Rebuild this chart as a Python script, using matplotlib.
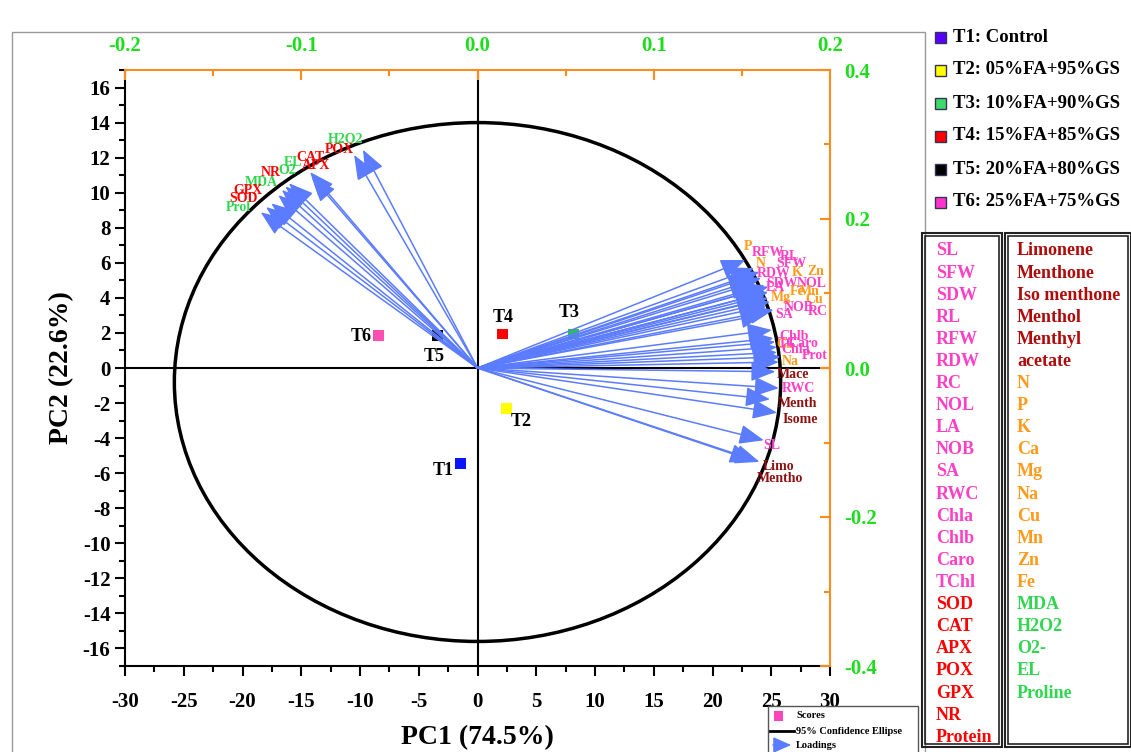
import numpy as np
import matplotlib.pyplot as plt
from matplotlib.patches import Ellipse, Rectangle, FancyArrowPatch
from matplotlib.lines import Line2D
from matplotlib.ticker import MultipleLocator

plt.rcParams['font.family'] = ['Liberation Serif', 'DejaVu Serif']
plt.rcParams['font.weight'] = 'bold'
plt.rcParams['axes.labelweight'] = 'bold'
plt.rcParams['axes.unicode_minus'] = False

W, H = 1131, 752

# scores (PC1, PC2)
score_names = ['T1', 'T2', 'T3', 'T4', 'T5', 'T6']
score_pc1 = [-1.45, 2.47, 8.17, 2.13, -3.4, -8.43]
score_pc2 = [-5.43, -2.29, 1.94, 1.94, 1.83, 1.83]
score_colors = ['#0a14ff', '#ffff00', '#22cc33', '#ff0000', '#000000', '#ff4fb0']
score_off = [(-17, -7), (15, -13), (-4, 21), (1, 16), (-3, -21), (-17, -1)]

# loadings (top / right axis units)
load_names = ['H2O2', 'POX', 'CAT', 'APX', 'EL', 'O2', 'NR', 'MDA', 'GPX', 'SOD', 'Prol',
              'P', 'RFW', 'RL', 'N', 'SFW', 'RDW', 'K', 'Zn', 'SDW', 'NOL', 'LA', 'Fe',
              'Mn', 'Mg', 'Cu', 'NOB', 'RC', 'SA', 'Chlb', 'Ca', 'TC', 'Caro', 'Chla',
              'Prot', 'Na', 'Mace', 'RWC', 'Menth', 'Isome', 'SL', 'Limo', 'Mentho']
load_pc1 = [-0.065, -0.070, -0.095, -0.094, -0.107, -0.109, -0.111, -0.113, -0.117, -0.120, -0.123,
            0.152, 0.157, 0.160, 0.156, 0.161, 0.157, 0.163, 0.165, 0.160, 0.165, 0.160, 0.163,
            0.165, 0.161, 0.166, 0.164, 0.168, 0.163, 0.167, 0.168, 0.169, 0.170, 0.170,
            0.172, 0.171, 0.169, 0.171, 0.166, 0.170, 0.1625, 0.160, 0.157]
load_pc2 = [0.293, 0.286, 0.263, 0.256, 0.248, 0.244, 0.239, 0.232, 0.221, 0.216, 0.209,
            0.145, 0.134, 0.129, 0.123, 0.121, 0.114, 0.111, 0.109, 0.106, 0.102, 0.099, 0.097,
            0.094, 0.091, 0.089, 0.083, 0.078, 0.072, 0.051, 0.040, 0.035, 0.028, 0.021,
            0.015, 0.008, -0.005, -0.027, -0.042, -0.060, -0.097, -0.126, -0.125]
load_group = ['s', 'e', 'e', 'e', 's', 's', 'e', 's', 'e', 'e', 's',
              'n', 'g', 'g', 'n', 'g', 'g', 'n', 'n', 'g', 'g', 'g', 'n',
              'n', 'n', 'n', 'g', 'g', 'g', 'g', 'n', 'g', 'g', 'g',
              'g', 'n', 'o', 'g', 'o', 'o', 'g', 'o', 'o']
# label offsets in pixels from arrow tip
load_off = [(-17, 10), (-15, 5), (0, 15), (4, 12), (4, 21), (2, 16), (-11, 17), (-17, 13), (-23, 13), (-23, 9), (-22, 5),
            (3, 13), (14, 16), (30, 15), (8, 13), (30, 14), (19, 10), (32, 13), (47, 15), (23, 6), (43, 9), (16, 7), (32, 4),
            (41, 6), (20, 3), (44, 2), (32, -1), (44, -2), (19, 0), (22, -6), (11, -6), (12, -2), (26, 4), (19, 3),
            (34, 1), (11, 1), (18, -3), (20, 0), (27, -4), (23, -7), (8, -5), (19, -5), (26, -17)]

group_col = {'g': '#ff3fc4', 'e': '#ff0000', 'o': '#8e1010', 'n': '#ff9a1a', 's': '#2fd64f'}

legend_names = ['T1: Control', 'T2: 05%FA+95%GS', 'T3: 10%FA+90%GS',
                'T4: 15%FA+85%GS', 'T5: 20%FA+80%GS', 'T6: 25%FA+75%GS']
legend_colors = ['#5a00ff', '#ffff00', '#3ddc6a', '#ff0000', '#000000', '#ff33cc']

list1 = ['SL', 'SFW', 'SDW', 'RL', 'RFW', 'RDW', 'RC', 'NOL', 'LA', 'NOB', 'SA', 'RWC',
         'Chla', 'Chlb', 'Caro', 'TChl', 'SOD', 'CAT', 'APX', 'POX', 'GPX', 'NR', 'Protein']
list1_group = ['g'] * 16 + ['e'] * 7
list2 = ['Limonene', 'Menthone', 'Iso menthone', 'Menthol', 'Menthyl', 'acetate',
         'N', 'P', 'K', 'Ca', 'Mg', 'Na', 'Cu', 'Mn', 'Zn', 'Fe',
         'MDA', 'H2O2', 'O2-', 'EL', 'Proline']
list2_group = ['o'] * 6 + ['n'] * 10 + ['s'] * 5

arrow_col = '#5b7cff'
orange = '#ff8c1a'
green = '#1fdc1f'


def fx(px):
    return px / W


def fy(py):
    return 1 - py / H


fig = plt.figure(figsize=(W / 100, H / 100), dpi=100)
pos = [fx(125), fy(666), fx(830) - fx(125), fy(70) - fy(666)]
ax = fig.add_axes(pos)
ax.set_xlim(-30, 30)
ax.set_ylim(-17, 17)
ax.spines['top'].set_visible(False)
ax.spines['right'].set_visible(False)
for s in ['left', 'bottom']:
    ax.spines[s].set_linewidth(1.5)
ax.xaxis.set_major_locator(MultipleLocator(5))
ax.xaxis.set_minor_locator(MultipleLocator(2.5))
ax.yaxis.set_major_locator(MultipleLocator(2))
ax.yaxis.set_minor_locator(MultipleLocator(1))
ax.tick_params(which='major', direction='out', length=7, width=1.5, labelsize=15)
ax.tick_params(axis='x', which='major', pad=12)
ax.tick_params(which='minor', direction='out', length=4, width=1.5)
ax.set_xlabel('PC1 (74.5%)', fontsize=20, labelpad=9)
ax.set_ylabel('PC2 (22.6%)', fontsize=20, labelpad=6)
ax.axhline(0, color='black', lw=1.5, zorder=1)
ax.axvline(0, color='black', lw=1.5, zorder=1)
ax.add_patch(Ellipse((0, -0.8), 51.6, 29.6, fill=False, ec='black', lw=2.5, zorder=2))
ax.scatter(score_pc1, score_pc2, marker='s', s=62, c=score_colors, zorder=3, linewidths=0)
for n, x, y, o in zip(score_names, score_pc1, score_pc2, score_off):
    ax.annotate(n, (x, y), xytext=o, textcoords='offset pixels', ha='center', va='center',
                fontsize=13, fontweight='bold')

# loading axes overlay
ax2 = fig.add_axes(pos, frameon=True)
ax2.patch.set_visible(False)
ax2.set_xlim(-0.2, 0.2)
ax2.set_ylim(-0.4, 0.4)
ax2.spines['left'].set_visible(False)
ax2.spines['bottom'].set_visible(False)
for s in ['top', 'right']:
    ax2.spines[s].set_color(orange)
    ax2.spines[s].set_linewidth(1.5)
ax2.xaxis.tick_top()
ax2.yaxis.tick_right()
ax2.xaxis.set_major_locator(MultipleLocator(0.1))
ax2.xaxis.set_minor_locator(MultipleLocator(0.05))
ax2.yaxis.set_major_locator(MultipleLocator(0.2))
ax2.yaxis.set_minor_locator(MultipleLocator(0.1))
ax2.xaxis.set_major_formatter(lambda v, p: f'{v:.1f}')
ax2.yaxis.set_major_formatter(lambda v, p: f'{v:.1f}')
ax2.tick_params(which='major', direction='in', length=7, width=1.5, color=orange,
                labelcolor=green, labelsize=15, pad=10)
ax2.tick_params(which='minor', direction='in', length=4, width=1.5, color=orange)

for n, x, y, g, o in zip(load_names, load_pc1, load_pc2, load_group, load_off):
    ax2.annotate('', xy=(x, y), xytext=(0, 0),
                 arrowprops=dict(arrowstyle='-|>,head_length=0.8,head_width=0.32',
                                 color=arrow_col, lw=1.1, mutation_scale=19,
                                 shrinkA=0, shrinkB=0))
    ax2.annotate(n, (x, y), xytext=o, textcoords='offset pixels', ha='center', va='center',
                 fontsize=10, fontweight='bold', color=group_col[g])

# outer frame
fig.add_artist(Rectangle((fx(12), fy(760)), fx(925) - fx(12), fy(32) - fy(760),
                         transform=fig.transFigure, fill=False, ec='#999999', lw=1))

# treatment legend
for i, (n, c) in enumerate(zip(legend_names, legend_colors)):
    yy = 37 + i * 33
    fig.add_artist(Rectangle((fx(935), fy(yy + 6)), 11 / W, 11 / H, transform=fig.transFigure,
                             fc=c, ec='#333355', lw=1))
    fig.text(fx(953), fy(yy), n, fontsize=13.5, fontweight='bold', va='center', ha='left')

# variable lists with double borders
for x0, x1 in [(922, 1002), (1005, 1131)]:
    fig.add_artist(Rectangle((fx(x0), fy(747)), fx(x1) - fx(x0), fy(233) - fy(747),
                             transform=fig.transFigure, fill=False, ec='#222222', lw=1.5))
    fig.add_artist(Rectangle((fx(x0 + 3), fy(744)), fx(x1 - 6) - fx(x0), fy(236) - fy(744),
                             transform=fig.transFigure, fill=False, ec='#222222', lw=1.2))
for i, (n, g) in enumerate(zip(list1, list1_group)):
    fig.text(fx(936), fy(251 + i * 22.1), n, fontsize=13, fontweight='bold',
             color=group_col[g], va='center', ha='left')
for i, (n, g) in enumerate(zip(list2, list2_group)):
    fig.text(fx(1017), fy(251 + i * 22.1), n, fontsize=13, fontweight='bold',
             color=group_col[g] if g != 'o' else '#b00a0a', va='center', ha='left')

# small legend
fig.add_artist(Rectangle((fx(768), fy(760)), fx(918) - fx(768), fy(706) - fy(760),
                         transform=fig.transFigure, fill=False, ec='#555555', lw=1))
fig.add_artist(Rectangle((fx(774), fy(721)), 9 / W, 10 / H, transform=fig.transFigure,
                         fc='#ff44bb', ec='none'))
fig.add_artist(Line2D([fx(770), fx(794)], [fy(731), fy(731)], transform=fig.transFigure,
                      color='black', lw=2))
fig.add_artist(FancyArrowPatch((fx(770), fy(745)), (fx(794), fy(745)),
               transform=fig.transFigure, arrowstyle='-|>,head_length=0.8,head_width=0.35',
               mutation_scale=14, color=arrow_col, lw=1))
for yy, t in [(716, 'Scores'), (731, '95% Confidence Ellipse'), (745, 'Loadings')]:
    fig.text(fx(796), fy(yy), t, fontsize=7.5, fontweight='bold', va='center', ha='left')

fig.savefig('out.png', dpi=100)
